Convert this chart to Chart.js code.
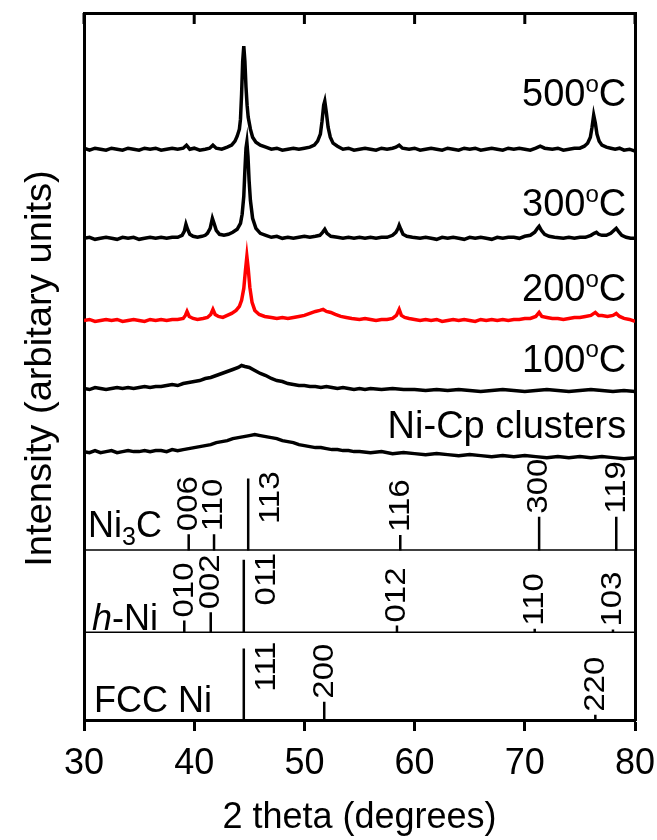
<!DOCTYPE html>
<html>
<head>
<meta charset="utf-8">
<title>XRD patterns</title>
<script src="https://cdn.jsdelivr.net/npm/chart.js@4.4.1/dist/chart.umd.min.js"></script>
<style>
  body { margin: 0; background: #fff; }
  canvas { display: block; }
</style>
</head>
<body>
<canvas id="xrdChart" width="657" height="840"></canvas>
<script>
// 2 theta ticks
const twoThetaTicks = [30, 40, 50, 60, 70, 80];

// patterns: [2 theta, intensity above the trace's own baseline]
const pattern500 = [[30,1],[30.5,-1],[31,1],[31.5,0],[32,-1],[32.5,1],[33,0],[33.5,-1],[34,1],[34.5,0],[35,-1],[35.5,1],[36,0],[36.5,1],[37,-1],[37.5,0],[38,1],[38.5,0],[39,1],[39.3,4],[39.6,0],[40,1],[40.5,-1],[41,0],[41.4,1],[41.7,4],[42,1],[42.5,0],[43,2],[43.4,4],[43.7,8],[43.9,13],[44.1,20],[44.2,30],[44.3,55],[44.4,88],[44.5,103],[44.6,88],[44.7,62],[44.8,44],[44.9,32],[45.1,20],[45.3,12],[45.6,7],[46,4],[46.5,2],[47,0],[47.5,1],[48,-1],[48.5,0],[49,1],[49.5,0],[50,1],[50.5,2],[50.9,4],[51.2,8],[51.45,15],[51.6,28],[51.75,44],[51.85,48],[52,36],[52.15,22],[52.35,12],[52.6,6],[53,3],[53.5,0],[54,1],[54.5,-1],[55,0],[55.5,1],[56,0],[56.5,-1],[57,1],[57.5,0],[58,1],[58.3,2],[58.6,4],[58.9,1],[59.5,0],[60,1],[60.5,-1],[61,0],[61.5,1],[62,0],[62.5,-1],[63,1],[63.5,0],[64,-1],[64.5,1],[65,0],[65.5,1],[66,-1],[66.5,0],[67,1],[67.5,0],[68,-1],[68.5,1],[69,0],[69.5,1],[70,0],[70.5,-1],[71,1],[71.4,3],[71.8,1],[72.5,0],[73,1],[73.5,-1],[74,0],[74.5,1],[75,1],[75.4,3],[75.7,6],[75.95,12],[76.1,22],[76.25,34],[76.4,26],[76.55,15],[76.75,8],[77,4],[77.4,2],[77.8,1],[78.2,0],[78.6,1],[79,-1],[79.5,0],[80,-2]];

const pattern300 = [[30,0],[30.5,1],[31,-1],[31.5,0],[32,1],[32.5,0],[33,-1],[33.5,1],[34,0],[34.5,1],[35,-1],[35.5,0],[36,1],[36.5,0],[37,1],[37.5,0],[38,1],[38.5,1],[38.9,3],[39.1,7],[39.25,14],[39.4,9],[39.6,4],[39.9,2],[40.3,1],[40.7,2],[41,3],[41.2,5],[41.45,10],[41.65,20],[41.8,15],[42,8],[42.3,4],[42.7,3],[43.1,4],[43.5,6],[43.9,9],[44.2,15],[44.35,24],[44.5,42],[44.6,68],[44.7,90],[44.78,96],[44.88,82],[44.98,58],[45.1,38],[45.3,20],[45.6,10],[46,5],[46.5,3],[47,1],[47.5,2],[48,0],[48.5,1],[49,0],[49.5,1],[50,2],[50.5,1],[51,2],[51.4,3],[51.65,6],[51.85,9],[52.05,5],[52.4,2],[53,1],[53.5,0],[54,1],[54.5,0],[55,1],[55.5,0],[56,1],[56.5,0],[57,1],[57.5,1],[58,3],[58.3,6],[58.5,10],[58.6,13],[58.75,9],[58.95,4],[59.3,2],[59.8,1],[60.5,0],[61,1],[61.5,0],[62,-1],[62.5,1],[63,0],[63.5,1],[64,0],[64.5,-1],[65,1],[65.5,0],[66,1],[66.5,0],[67,-1],[67.5,1],[68,0],[68.5,1],[69,1],[69.5,0],[70,2],[70.5,3],[70.9,6],[71.15,10],[71.3,12],[71.5,8],[71.8,4],[72.2,2],[72.7,1],[73.5,0],[74,1],[74.5,0],[75,1],[75.5,1],[76,3],[76.3,5],[76.5,6],[76.7,4],[77,3],[77.4,3],[77.8,5],[78.1,8],[78.3,10],[78.5,7],[78.8,3],[79.2,1],[79.6,0],[80,0]];

const pattern200 = [[30,0],[30.5,1],[31,-1],[31.5,0],[32,1],[32.5,0],[33,1],[33.5,-1],[34,0],[34.5,1],[35,0],[35.5,-1],[36,1],[36.5,0],[37,1],[37.5,0],[38,1],[38.5,1],[39,2],[39.2,5],[39.35,9],[39.55,4],[39.9,2],[40.3,1],[40.8,2],[41.2,3],[41.5,6],[41.7,11],[41.9,6],[42.2,4],[42.6,3],[43,5],[43.4,7],[43.8,10],[44.1,14],[44.3,20],[44.5,32],[44.65,50],[44.78,64],[44.9,52],[45.05,33],[45.25,18],[45.5,10],[45.9,6],[46.4,4],[47,3],[47.5,2],[48,3],[48.5,2],[49,3],[49.5,4],[50,5],[50.5,7],[51,9],[51.4,10],[51.7,11],[52,9],[52.4,8],[52.8,6],[53.3,4],[53.8,3],[54.3,2],[55,1],[55.5,2],[56,1],[56.5,0],[57,1],[57.5,1],[58,2],[58.35,5],[58.6,11],[58.8,5],[59.1,3],[59.5,2],[60,1],[60.5,0],[61,1],[61.5,0],[62,1],[62.5,-1],[63,0],[63.5,1],[64,0],[64.5,1],[65,0],[65.5,-1],[66,1],[66.5,0],[67,1],[67.5,0],[68,1],[68.5,0],[69,1],[69.5,1],[70,2],[70.5,2],[71,4],[71.3,8],[71.55,4],[72,3],[72.5,2],[73,2],[73.5,1],[74,2],[74.5,3],[75,3],[75.5,4],[76,5],[76.4,8],[76.7,5],[77,5],[77.5,4],[78,5],[78.3,7],[78.6,4],[79,2],[79.5,1],[80,-1]];

const pattern100 = [[30,2],[30.5,1],[31,3],[31.5,2],[32,1],[32.5,2],[33,3],[33.5,2],[34,3],[34.5,2],[35,3],[35.5,4],[36,3],[36.5,4],[37,4],[37.5,5],[38,6],[38.5,5],[39,7],[39.5,8],[40,9],[40.5,10],[41,12],[41.5,13],[42,15],[42.5,17],[43,19],[43.5,21],[44,23],[44.3,25],[44.6,24],[45,23],[45.5,20],[46,17],[46.5,15],[47,12],[47.5,10],[48,9],[48.5,7],[49,6],[49.5,5],[50,5],[50.5,4],[51,4],[51.5,3],[52,4],[52.5,3],[53,2],[53.5,3],[54,2],[54.5,1],[55,2],[55.5,1],[56,2],[57,1],[58,2],[59,1],[60,1],[61,0],[62,1],[63,0],[64,1],[65,0],[66,-1],[67,0],[68,1],[69,0],[70,-1],[71,0],[72,1],[73,0],[74,-1],[75,0],[76,1],[77,0],[78,-1],[79,0],[80,-1]];

const patternNiCp = [[30,3],[30.5,2],[31,4],[31.5,2],[32,3],[32.5,4],[33,2],[33.5,3],[34,4],[34.5,3],[35,3],[35.5,4],[36,3],[36.5,4],[37,4],[37.5,3],[38,5],[38.5,4],[39,5],[39.5,6],[40,7],[40.5,8],[41,9],[41.5,10],[42,12],[42.5,13],[43,14],[43.5,16],[44,17],[44.5,18],[45,19],[45.5,20],[46,19],[46.5,18],[47,17],[47.5,16],[48,14],[48.5,13],[49,12],[49.5,10],[50,9],[50.5,8],[51,7],[51.5,7],[52,6],[52.5,5],[53,5],[53.5,4],[54,4],[54.5,3],[55,3],[56,2],[57,3],[58,1],[59,2],[60,1],[61,0],[62,1],[63,0],[64,-1],[65,0],[66,-1],[67,-2],[68,-1],[69,-2],[70,-1],[71,-2],[72,-3],[73,-2],[74,-3],[75,-2],[76,-3],[77,-2],[78,-3],[79,-4],[80,-3]];

const patterns = [pattern500, pattern300, pattern200, pattern100, patternNiCp];
const traceNames = ['500ºC', '300ºC', '200ºC', '100ºC', 'Ni-Cp clusters'];

// reference sticks
const ni3cHkl = ['006', '110', '113', '116', '300', '119'];
const ni3cPos = [39.5, 41.8, 44.9, 58.7, 71.3, 78.3];
const ni3cInt = [20, 20, 87, 19, 41, 41];

const hniHkl = ['010', '002', '011', '012', '110', '103'];
const hniPos = [39.1, 41.5, 44.5, 58.4, 70.9, 78.0];
const hniInt = [15, 25, 89, 9, 5, 4];

const fccHkl = ['111', '200', '220'];
const fccPos = [44.5, 51.8, 76.4];
const fccInt = [82, 21, 6];

// layout of the stacked traces (units of the top panel axis)
const traceOffsets = [318, 229, 147, 77, 13];
const traceColors = ['#000', '#000', '#ff0000', '#000', '#000'];
const nameBaselines = [361, 251, 166, 96, 30];

const FONT = '"Liberation Sans", Arial, Helvetica, sans-serif';
Chart.defaults.font.family = FONT;
Chart.defaults.color = '#000';

function stickPoints(pos, int) {
  const pts = [];
  pos.forEach((p, i) => {
    pts.push({x: p, y: 0}, {x: p, y: int[i]}, {x: p, y: null});
  });
  return pts;
}

const datasets = patterns.map((pat, i) => ({
  label: traceNames[i],
  data: pat.map(([x, y]) => ({x: x, y: y + traceOffsets[i]})),
  yAxisID: 'yMain',
  borderColor: traceColors[i],
  borderWidth: 3.5,
  pointRadius: 0,
  tension: 0
}));

[['Ni3C', ni3cPos, ni3cInt, 'yNi3C'], ['h-Ni', hniPos, hniInt, 'yhNi'], ['FCC Ni', fccPos, fccInt, 'yFCC']]
  .forEach(([name, pos, int, axis]) => {
    datasets.push({
      label: name,
      data: stickPoints(pos, int),
      yAxisID: axis,
      borderColor: '#000',
      borderWidth: 2.5,
      pointRadius: 0,
      spanGaps: false
    });
  });

// panel separators
['yNi3C', 'yhNi'].forEach(axis => {
  datasets.push({
    data: [{x: 30, y: 0}, {x: 80, y: 0}],
    yAxisID: axis,
    borderColor: '#000',
    borderWidth: 3,
    pointRadius: 0
  });
});

function panelAxis(weight, stackWeight) {
  return {
    type: 'linear',
    position: 'left',
    stack: 'panels',
    stackWeight: stackWeight,
    weight: weight,
    min: 0,
    max: 100,
    ticks: {display: false},
    grid: {display: false, drawTicks: false},
    border: {color: '#000', width: 3}
  };
}

function drawSuperC(ctx, text, xRight, y, size) {
  // "500ºC" is drawn as 500 + raised small o + C
  const num = text.replace('ºC', '');
  ctx.font = size + 'px ' + FONT;
  const wNum = ctx.measureText(num).width;
  const wC = ctx.measureText('C').width;
  ctx.font = Math.round(size * 0.62) + 'px ' + FONT;
  const wO = ctx.measureText('o').width;
  let x = xRight - wNum - wO - wC;
  ctx.textAlign = 'left';
  ctx.font = size + 'px ' + FONT;
  ctx.fillText(num, x, y);
  x += wNum;
  ctx.font = Math.round(size * 0.62) + 'px ' + FONT;
  ctx.fillText('o', x, y - size * 0.38);
  x += wO;
  ctx.font = size + 'px ' + FONT;
  ctx.fillText('C', x, y);
}

function drawStickLabels(ctx, xs, ys, pos, int, hkl) {
  ctx.font = '30px ' + FONT;
  ctx.textBaseline = 'middle';
  pos.forEach((p, i) => {
    const px = xs.getPixelForValue(p);
    const top = ys.getPixelForValue(int[i]);
    ctx.save();
    if (int[i] > 70) {
      ctx.translate(px + 23, top - 7);
      ctx.rotate(-Math.PI / 2);
      ctx.scale(1.1, 1);
      ctx.textAlign = 'right';
    } else {
      ctx.translate(px, top - 3);
      ctx.rotate(-Math.PI / 2);
      ctx.scale(1.1, 1);
      ctx.textAlign = 'left';
    }
    ctx.fillText(hkl[i], 0, 0);
    ctx.restore();
  });
}

const annotations = {
  id: 'annotations',
  afterDraw(chart) {
    const {ctx, chartArea, scales} = chart;
    const xs = scales.x;
    ctx.save();
    ctx.fillStyle = '#000';
    ctx.strokeStyle = '#000';

    // inward ticks on the top frame
    ctx.lineWidth = 3;
    twoThetaTicks.forEach(v => {
      const px = scales.xTop.getPixelForValue(v);
      ctx.beginPath();
      ctx.moveTo(px, chartArea.top);
      ctx.lineTo(px, chartArea.top + 11);
      ctx.stroke();
    });

    // trace names
    ctx.textBaseline = 'alphabetic';
    traceNames.forEach((name, i) => {
      const xr = xs.getPixelForValue(79.2);
      const y = scales.yMain.getPixelForValue(nameBaselines[i]);
      if (name.endsWith('ºC')) {
        drawSuperC(ctx, name, xr, y, 38);
      } else {
        ctx.font = '38px ' + FONT;
        ctx.textAlign = 'right';
        ctx.fillText(name, xr, y);
      }
    });

    // panel names
    const left = chartArea.left;
    ctx.textAlign = 'left';
    let y = scales.yNi3C.getPixelForValue(17);
    ctx.font = '36px ' + FONT;
    ctx.fillText('Ni', left + 4, y);
    let w = ctx.measureText('Ni').width;
    ctx.font = '25px ' + FONT;
    ctx.fillText('3', left + 4 + w, y + 8);
    w += ctx.measureText('3').width;
    ctx.font = '36px ' + FONT;
    ctx.fillText('C', left + 4 + w, y);

    y = scales.yhNi.getPixelForValue(4);
    ctx.font = 'italic 36px ' + FONT;
    ctx.fillText('h', left + 8, y);
    w = ctx.measureText('h').width;
    ctx.font = '36px ' + FONT;
    ctx.fillText('-Ni', left + 8 + w, y);

    y = scales.yFCC.getPixelForValue(9);
    ctx.fillText('FCC Ni', left + 10, y);

    // hkl labels
    drawStickLabels(ctx, xs, scales.yNi3C, ni3cPos, ni3cInt, ni3cHkl);
    drawStickLabels(ctx, xs, scales.yhNi, hniPos, hniInt, hniHkl);
    drawStickLabels(ctx, xs, scales.yFCC, fccPos, fccInt, fccHkl);

    // y axis title
    ctx.save();
    ctx.translate(41, (chartArea.top + chartArea.bottom) / 2 + 2);
    ctx.rotate(-Math.PI / 2);
    ctx.scale(1.06, 1);
    ctx.font = '36px ' + FONT;
    ctx.textAlign = 'center';
    ctx.textBaseline = 'middle';
    ctx.fillText('Intensity (arbitary units)', 0, 0);
    ctx.restore();

    ctx.restore();
  }
};

new Chart(document.getElementById('xrdChart'), {
  type: 'line',
  data: {datasets: datasets},
  plugins: [annotations],
  options: {
    responsive: false,
    animation: false,
    layout: {padding: {left: 84, right: 22, top: 13, bottom: 0}},
    plugins: {
      legend: {display: false},
      tooltip: {enabled: false}
    },
    scales: {
      x: {
        type: 'linear',
        position: 'bottom',
        min: 30,
        max: 80,
        afterBuildTicks: axis => { axis.ticks = twoThetaTicks.map(v => ({value: v})); },
        afterFit: axis => {
          axis.height = 120;
          axis.paddingLeft = 0;
          axis.paddingRight = 0;
        },
        ticks: {font: {size: 36}, color: '#000', padding: 11, maxRotation: 0},
        grid: {drawOnChartArea: false, tickLength: 11, tickWidth: 3, color: '#000'},
        border: {color: '#000', width: 3},
        title: {display: true, text: '2 theta (degrees)', font: {size: 36}, color: '#000', padding: {top: 0, bottom: 0}}
      },
      xTop: {
        type: 'linear',
        position: 'top',
        min: 30,
        max: 80,
        ticks: {display: false},
        grid: {display: false, drawTicks: false},
        border: {color: '#000', width: 3}
      },
      yRight: {
        type: 'linear',
        position: 'right',
        ticks: {display: false},
        grid: {display: false, drawTicks: false},
        border: {color: '#000', width: 3}
      },
      yMain: Object.assign(panelAxis(4, 454), {max: 454}),
      yNi3C: panelAxis(3, 83),
      yhNi: panelAxis(2, 82),
      yFCC: panelAxis(1, 87)
    }
  }
});
</script>
</body>
</html>
